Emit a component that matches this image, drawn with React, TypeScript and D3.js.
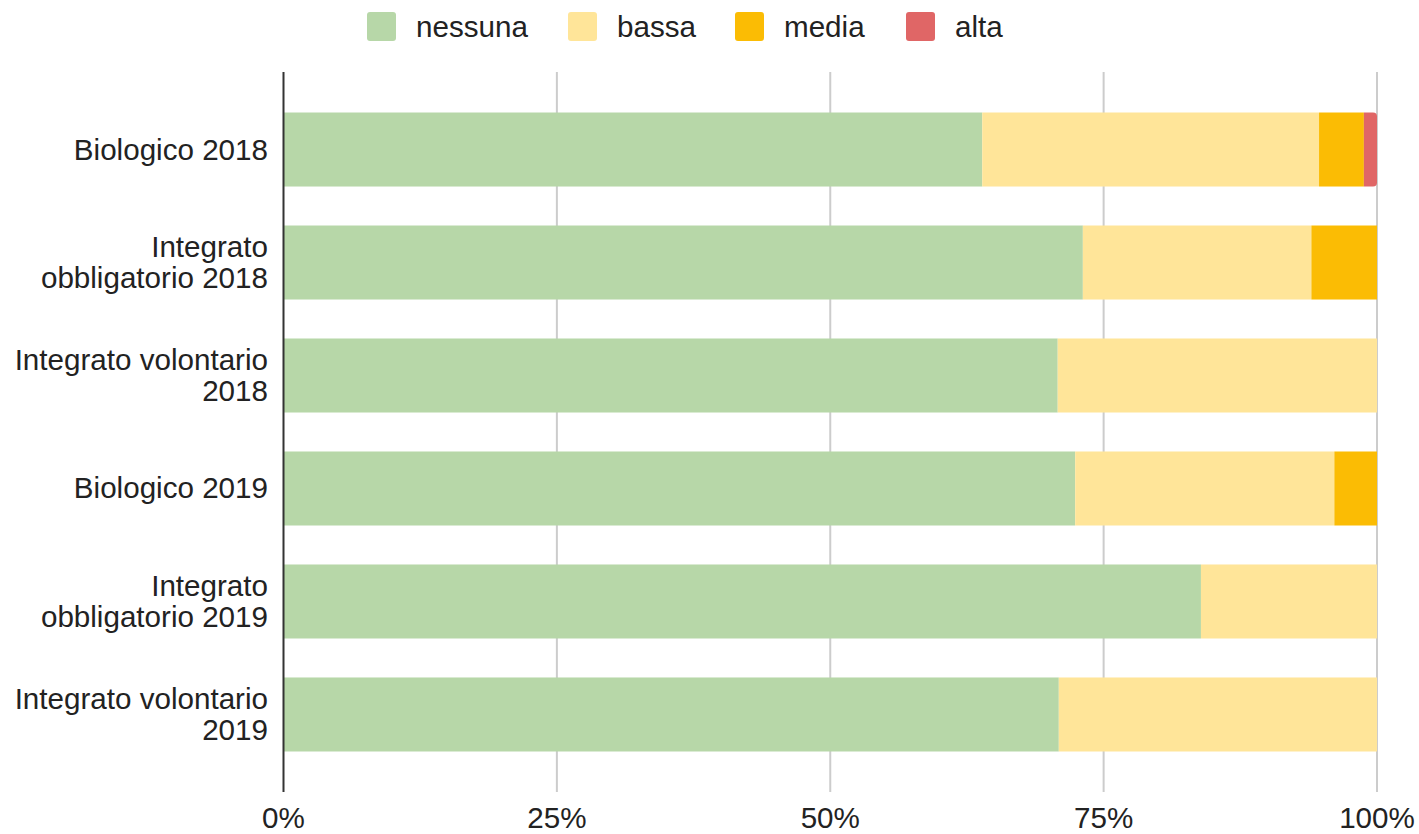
import React from "react";
import * as d3 from "d3";

const categories = [
  "Biologico 2018",
  "Integrato\nobbligatorio 2018",
  "Integrato volontario\n2018",
  "Biologico 2019",
  "Integrato\nobbligatorio 2019",
  "Integrato volontario\n2019",
];
const seriesNames = ["nessuna", "bassa", "media", "alta"];
const seriesColors = ["#b7d7a8", "#ffe599", "#fbbc04", "#e06666"];
const nessuna = [63.9, 73.1, 70.8, 72.4, 83.9, 70.9];
const bassa = [30.8, 20.9, 29.2, 23.7, 16.1, 29.1];
const media = [4.1, 6.0, 0, 3.9, 0, 0];
const alta = [1.2, 0, 0, 0, 0, 0];
const xTicks = [0, 0.25, 0.5, 0.75, 1];

const W = 1419;
const H = 834;
const FONT = "'Liberation Sans', Arial, sans-serif";
const FS = 29.6;

export default function App() {
  const rows = categories.map((c, i) => ({
    cat: c,
    nessuna: nessuna[i],
    bassa: bassa[i],
    media: media[i],
    alta: alta[i],
  }));
  const stacked = d3
    .stack<any>()
    .keys(seriesNames)
    .offset(d3.stackOffsetExpand)(rows);

  const x = d3.scaleLinear().domain([0, 1]).range([283.5, 1377]);
  const y = d3
    .scaleBand<string>()
    .domain(categories)
    .range([72, 792])
    .paddingInner(0.345)
    .paddingOuter(0.3585);

  const fmt = d3.format(".0%");
  const legendX = [367, 568, 735, 906];

  const roundedRight = (x0: number, x1: number, y0: number, h: number, r: number) => {
    const w = x1 - x0;
    const rr = Math.min(r, w);
    return `M${x0},${y0}H${x1 - rr}A${rr},${rr} 0 0 1 ${x1},${y0 + rr}V${y0 + h - rr}A${rr},${rr} 0 0 1 ${x1 - rr},${y0 + h}H${x0}Z`;
  };

  return (
    <svg
      width={W}
      height={H}
      style={{ position: "absolute", left: 0, top: 0, background: "#fff" }}
      fontFamily={FONT}
    >
      {/* legend */}
      {seriesNames.map((s, i) => (
        <g key={s}>
          <rect x={legendX[i]} y={12} width={29} height={29} rx={3} fill={seriesColors[i]} />
          <text x={legendX[i] + 49} y={37} fontSize={FS} fill="#222">
            {s}
          </text>
        </g>
      ))}

      {/* gridlines */}
      {xTicks.slice(1).map((t) => (
        <line key={t} x1={x(t)} x2={x(t)} y1={72} y2={792} stroke="#cccccc" strokeWidth={2} />
      ))}

      {/* bars */}
      {stacked.map((layer, si) =>
        layer.map((d, ci) => {
          const x0 = x(d[0]);
          const x1 = x(d[1]);
          if (x1 - x0 <= 0.01) return null;
          const yy = y(categories[ci])!;
          const h = y.bandwidth();
          if (si === seriesNames.length - 1) {
            return (
              <path
                key={`${si}-${ci}`}
                d={roundedRight(x0, x1, yy, h, 4)}
                fill={seriesColors[si]}
              />
            );
          }
          return (
            <rect
              key={`${si}-${ci}`}
              x={x0}
              y={yy}
              width={x1 - x0}
              height={h}
              fill={seriesColors[si]}
            />
          );
        })
      )}

      {/* axis line */}
      <line x1={283.5} x2={283.5} y1={72} y2={792} stroke="#333" strokeWidth={2} />

      {/* category labels */}
      {categories.map((c) => {
        const lines = c.split("\n");
        const cy = y(c)! + y.bandwidth() / 2;
        const lh = 31;
        const start = cy - ((lines.length - 1) * lh) / 2 + 10;
        return (
          <text key={c} x={268} textAnchor="end" fontSize={FS} fill="#222">
            {lines.map((l, i) => (
              <tspan key={i} x={268} y={start + i * lh}>
                {l}
              </tspan>
            ))}
          </text>
        );
      })}

      {/* x tick labels */}
      {xTicks.map((t) => (
        <text key={t} x={x(t)} y={828} textAnchor="middle" fontSize={FS} fill="#222">
          {fmt(t)}
        </text>
      ))}
    </svg>
  );
}
